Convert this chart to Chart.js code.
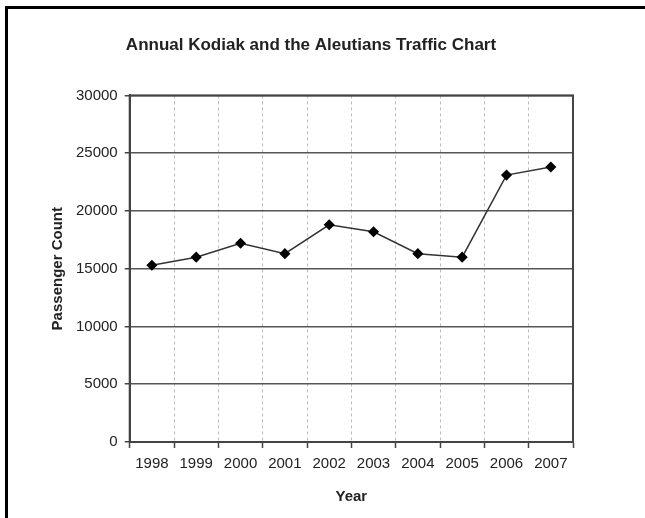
<!DOCTYPE html>
<html>
<head>
<meta charset="utf-8">
<script src="https://cdn.jsdelivr.net/npm/chart.js@4"></script>
<style>
  body { margin: 0; background: #fff; }
  .frame {
    position: absolute; left: 5px; top: 6px; width: 650px; height: 520px;
    border-top: 3px solid #000; border-left: 3px solid #000;
  }
  .wrap { position: absolute; left: 30px; top: 0; width: 552px; height: 518px; }
</style>
</head>
<body>
<div class="frame"></div>
<div class="wrap"><canvas id="trafficChart"></canvas></div>
<script>
// Chart data
const years = ['1998', '1999', '2000', '2001', '2002', '2003', '2004', '2005', '2006', '2007'];
const passengers = [15300, 16000, 17200, 16300, 18800, 18200, 16300, 16000, 23100, 23800];
const yTicks = [0, 5000, 10000, 15000, 20000, 25000, 30000];

const textColor = '#222';
const fontName = "'Liberation Sans', Arial, sans-serif";

// Dark frame round the plot area
const plotFrame = {
  id: 'plotFrame',
  afterDatasetsDraw(chart) {
    const a = chart.chartArea;
    const ctx = chart.ctx;
    ctx.save();
    ctx.strokeStyle = '#444';
    ctx.lineWidth = 2;
    ctx.strokeRect(a.left, a.top, a.right - a.left, a.bottom - a.top);
    ctx.restore();
  }
};

const config = {
  type: 'line',
  data: {
    labels: years,
    datasets: [{
      label: 'Passenger Count',
      data: passengers,
      borderColor: '#333',
      borderWidth: 1.5,
      pointStyle: 'rectRot',
      pointRadius: 4.5,
      pointBackgroundColor: '#000',
      pointBorderColor: '#000',
      tension: 0
    }]
  },
  plugins: [plotFrame],
  options: {
    responsive: true,
    maintainAspectRatio: false,
    animation: false,
    layout: { padding: { left: 19, right: 9, top: 0, bottom: 12 } },
    plugins: {
      legend: { display: false },
      tooltip: { enabled: false },
      title: {
        display: true,
        text: 'Annual Kodiak and the Aleutians Traffic Chart',
        color: textColor,
        font: { family: fontName, size: 17, weight: 'bold' },
        padding: { top: 35, bottom: 40 }
      }
    },
    scales: {
      x: {
        offset: true,
        grid: {
          offset: true,
          color: '#bbb',
          lineWidth: 1,
          tickColor: '#444',
          tickLength: 6,
          tickWidth: 1.5
        },
        border: { display: true, color: '#444', width: 2, dash: [3, 3] },
        ticks: {
          color: textColor,
          font: { family: fontName, size: 15 },
          padding: 7,
          maxRotation: 0,
          autoSkip: false
        },
        title: {
          display: true,
          text: 'Year',
          color: textColor,
          font: { family: fontName, size: 15, weight: 'bold' },
          padding: { top: 8, bottom: 0 }
        }
      },
      y: {
        min: 0,
        max: 30000,
        afterBuildTicks(scale) {
          scale.ticks = yTicks.map(v => ({ value: v }));
        },
        grid: {
          color: '#555',
          lineWidth: 1.5,
          tickColor: '#444',
          tickLength: 5
        },
        border: { display: true, color: '#444', width: 2 },
        ticks: {
          color: textColor,
          font: { family: fontName, size: 15 },
          padding: 7,
          callback: (value) => String(value)
        },
        title: {
          display: true,
          text: 'Passenger Count',
          color: textColor,
          font: { family: fontName, size: 15, weight: 'bold' },
          padding: { top: 0, bottom: 2 }
        }
      }
    }
  }
};

const trafficChart = new Chart(document.getElementById('trafficChart'), config);
</script>
</body>
</html>
